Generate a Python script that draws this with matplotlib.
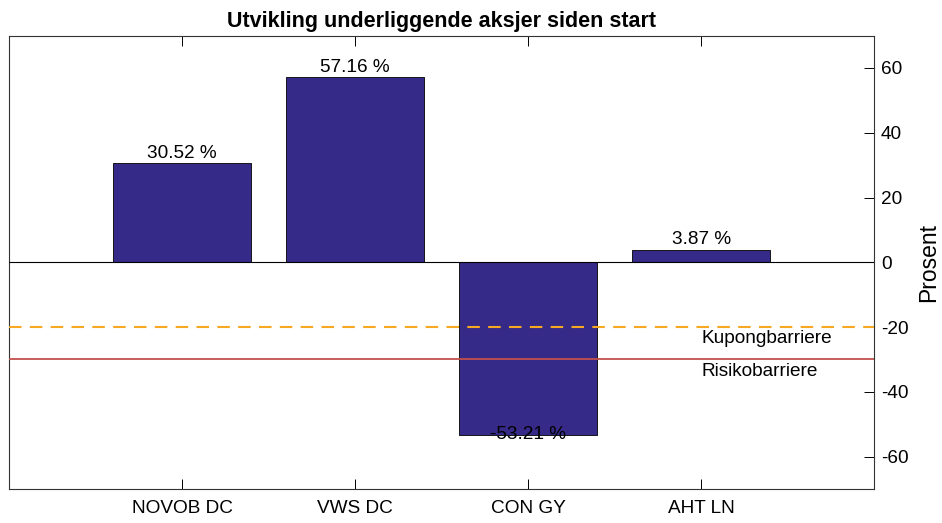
import numpy as np
import matplotlib
matplotlib.use("Agg")
import matplotlib.pyplot as plt

plt.rcParams['font.family'] = ['Liberation Sans', 'DejaVu Sans']
plt.rcParams['axes.unicode_minus'] = False

# Data
tickers = ['NOVOB DC', 'VWS DC', 'CON GY', 'AHT LN']
utvikling = [30.52, 57.16, -53.21, 3.87]
kupong_barriere = -20
risiko_barriere = -30

fs = 13.7

fig = plt.figure(figsize=(9.42, 5.23), dpi=100)
ax = fig.add_axes([0.0096, 0.065, 0.9184, 0.867])

x = np.arange(1, len(tickers) + 1)
ax.bar(x, utvikling, width=0.8, color='#352a87', edgecolor='black', linewidth=0.6, zorder=2)

# etiketter på søylene
for xi, v in zip(x, utvikling):
    if v >= 0:
        ax.text(xi, v + 0.4, f'{v:.2f} %', ha='center', va='bottom', fontsize=fs, zorder=4)
    else:
        ax.text(xi, v, f'{v:.2f} %', ha='center', va='center', fontsize=fs, zorder=4)

ax.axhline(0, color='black', linewidth=0.8, zorder=3)
ax.axhline(kupong_barriere, color='#f7a823', linestyle=(0, (6, 4)), linewidth=1.5, zorder=3)
ax.axhline(risiko_barriere, color='#c0504d', linewidth=1.3, zorder=3)
ax.text(4.0, kupong_barriere - 1.0, 'Kupongbarriere', ha='left', va='top', fontsize=fs, zorder=4)
ax.text(4.0, risiko_barriere - 1.0, 'Risikobarriere', ha='left', va='top', fontsize=fs, zorder=4)

ax.set_xlim(0, 5)
ax.set_ylim(-70, 70)
ax.set_xticks(x)
ax.set_xticklabels(tickers, fontsize=fs)
ax.set_yticks([-60, -40, -20, 0, 20, 40, 60])
ax.yaxis.tick_right()
ax.yaxis.set_label_position('right')
ax.set_ylabel('Prosent', fontsize=16.5, labelpad=6)
ax.tick_params(axis='y', direction='in', length=7, labelsize=fs, pad=5, width=0.7)
ax.tick_params(axis='x', direction='in', length=7, top=True, labelsize=fs, pad=8, width=0.7)
for s in ax.spines.values():
    s.set_linewidth(0.8)
    s.set_color('#333333')

ax.set_title('Utvikling underliggende aksjer siden start', fontsize=15.5, fontweight='bold', pad=6)

fig.savefig('out.png', dpi=100)
